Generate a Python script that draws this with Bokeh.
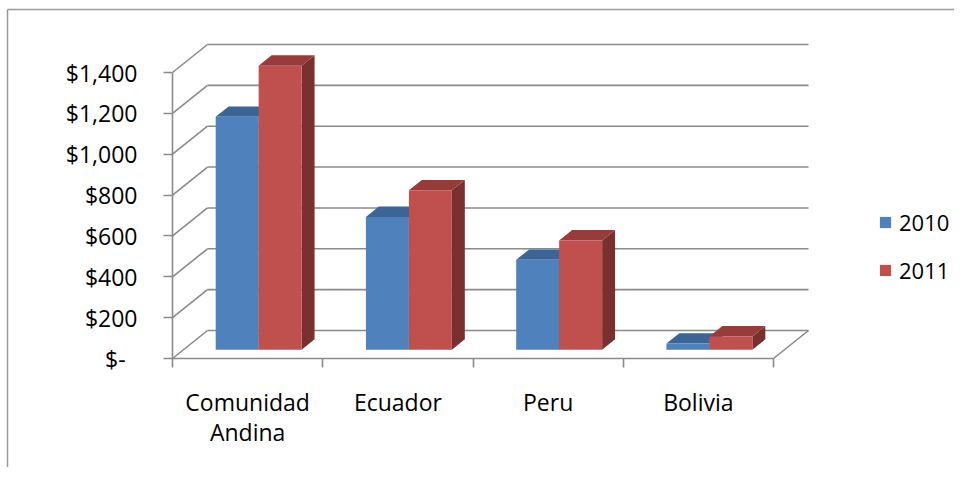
from bokeh.plotting import figure
from bokeh.models import Range1d, LinearAxis, FixedTicker, Legend, LegendItem
from bokeh.embed import file_html
from bokeh.resources import INLINE

# ---------------- data ----------------
categories = ["Comunidad Andina", "Ecuador", "Peru", "Bolivia"]
label_line1 = ["Comunidad", "Ecuador", "Peru", "Bolivia"]
label_line2 = ["Andina", "", "", ""]
series_names = ["2010", "2011"]
values_2010 = [1140, 650, 440, 30]
values_2011 = [1390, 780, 535, 65]
y_ticks = [0, 200, 400, 600, 800, 1000, 1200, 1400]
y_tick_labels = ["$-\u00a0\u00a0", "$200", "$400", "$600", "$800", "$1,000", "$1,200", "$1,400"]

# ---------------- layout / style ----------------
W, H = 954, 467
PX_CAT = 150.25            # pixels per category on the front plane
PX_VAL = 286.0 / 1400.0    # pixels per value unit
ORIGIN_X = 172             # canvas px of the front-left corner
ORIGIN_Y = 358             # canvas px (from top) of the front baseline
DX = 35.0 / PX_CAT         # depth offset (category units)
DY = 28.0 / PX_VAL         # depth offset (value units)
BAR_W = 0.286              # bar width, category units
D_FRONT, D_BACK = 0.315, 0.685

FONT = "Open Sans"
FSIZE = "23px"
GRID = "#8a8a8a"
FRONT = ["#4F81BD", "#C0504D"]
TOP = ["#3C6494", "#963C3A"]
SIDE = ["#2F4D73", "#7A302E"]

XS = -ORIGIN_X / PX_CAT
XE = XS + W / PX_CAT
YS = -(H - ORIGIN_Y) / PX_VAL
YE = YS + H / PX_VAL

p = figure(width=W, height=H, output_backend="svg", toolbar_location=None,
           title=None, x_axis_type=None, y_axis_type=None,
           x_range=Range1d(XS, XE), y_range=Range1d(YS, YE),
           min_border=0, min_border_left=0, min_border_right=0,
           min_border_top=0, min_border_bottom=0)
p.outline_line_color = None
p.background_fill_color = "white"
p.border_fill_color = "white"

n = len(categories)
top_v = max(y_ticks)

# chart-area border (left and top)
p.line([XS + 7 / PX_CAT] * 2, [YS, YE - 9 / PX_VAL], line_color="#9a9a9a", line_width=1.5)
p.line([XS + 7 / PX_CAT, XE], [YE - 9 / PX_VAL] * 2, line_color="#9a9a9a", line_width=1.5)

# back wall gridlines + side wall diagonals
p.multi_line([[DX, n + DX] for v in y_ticks], [[v + DY, v + DY] for v in y_ticks],
             line_color=GRID, line_width=1.6)
p.multi_line([[0, DX] for v in y_ticks], [[v, v + DY] for v in y_ticks],
             line_color=GRID, line_width=1.6)
# floor right edge
p.line([n, n + DX], [0, DY], line_color=GRID, line_width=1.6)

# bars
fronts = []
all_vals = [values_2010, values_2011]
ddx = (D_BACK - D_FRONT) * DX
ddy = (D_BACK - D_FRONT) * DY
for s, vals in enumerate(all_vals):
    x0s, x1s, y0s, y1s = [], [], [], []
    top_xs, top_ys, side_xs, side_ys = [], [], [], []
    for i, v in enumerate(vals):
        x0 = i + 0.5 - BAR_W + s * BAR_W + D_FRONT * DX
        x1 = x0 + BAR_W
        y0 = D_FRONT * DY
        y1 = v + D_FRONT * DY
        x0s.append(x0); x1s.append(x1); y0s.append(y0); y1s.append(y1)
        top_xs.append([x0, x1, x1 + ddx, x0 + ddx])
        top_ys.append([y1, y1, y1 + ddy, y1 + ddy])
        side_xs.append([x1, x1 + ddx, x1 + ddx, x1])
        side_ys.append([y0, y0 + ddy, y1 + ddy, y1])
    p.patches(side_xs, side_ys, fill_color=SIDE[s], line_color=None)
    p.patches(top_xs, top_ys, fill_color=TOP[s], line_color=None)
    r = p.quad(left=x0s, right=x1s, bottom=y0s, top=y1s, fill_color=FRONT[s], line_color=None)
    fronts.append(r)

# y axis (front left)
yaxis = LinearAxis(fixed_location=0, bounds=(0, top_v),
                   ticker=FixedTicker(ticks=y_ticks, minor_ticks=[]),
                   major_label_overrides={t: l for t, l in zip(y_ticks, y_tick_labels)},
                   axis_line_color=GRID, axis_line_width=1.6,
                   major_tick_line_color=GRID, major_tick_line_width=1.6,
                   major_tick_out=9, major_tick_in=0,
                   minor_tick_line_color=None,
                   major_label_standoff=26,
                   major_label_text_font=FONT, major_label_text_font_size=FSIZE,
                   major_label_text_color="#000000")
p.add_layout(yaxis, "left")

# x axis (front baseline) with category names, boundary ticks as minor ticks
centers = [i + 0.5 for i in range(n)]
bounds_ticks = [float(i) for i in range(n + 1)]
xaxis = LinearAxis(fixed_location=0, bounds=(0, n),
                   ticker=FixedTicker(ticks=centers, minor_ticks=bounds_ticks),
                   major_label_overrides={c: l for c, l in zip(centers, label_line1)},
                   axis_line_color=GRID, axis_line_width=1.6,
                   major_tick_line_color=None, major_tick_out=0, major_tick_in=0,
                   minor_tick_line_color=GRID, minor_tick_line_width=1.6,
                   minor_tick_out=9, minor_tick_in=0,
                   major_label_standoff=18,
                   major_label_text_font=FONT, major_label_text_font_size=FSIZE,
                   major_label_text_color="#000000")
p.add_layout(xaxis, "below")

second = [(c, l) for c, l in zip(centers, label_line2) if l]
xaxis2 = LinearAxis(fixed_location=0, bounds=(0, n),
                    ticker=FixedTicker(ticks=[c for c, _ in second], minor_ticks=[]),
                    major_label_overrides={c: l for c, l in second},
                    axis_line_color=None, major_tick_line_color=None,
                    minor_tick_line_color=None, major_tick_out=0, major_tick_in=0,
                    major_label_standoff=57,
                    major_label_text_font=FONT, major_label_text_font_size=FSIZE,
                    major_label_text_color="#000000")
p.add_layout(xaxis2, "below")

legend = Legend(items=[LegendItem(label=series_names[k], renderers=[fronts[k]]) for k in range(2)],
                location=(878, 182), orientation="vertical",
                glyph_width=14, glyph_height=14, label_standoff=7,
                label_text_font=FONT, label_text_font_size="22px", label_text_color="#000000",
                spacing=18, padding=0, margin=0,
                border_line_color=None, background_fill_alpha=0)
p.add_layout(legend)

open("out.html", "w").write(file_html(p, INLINE))
